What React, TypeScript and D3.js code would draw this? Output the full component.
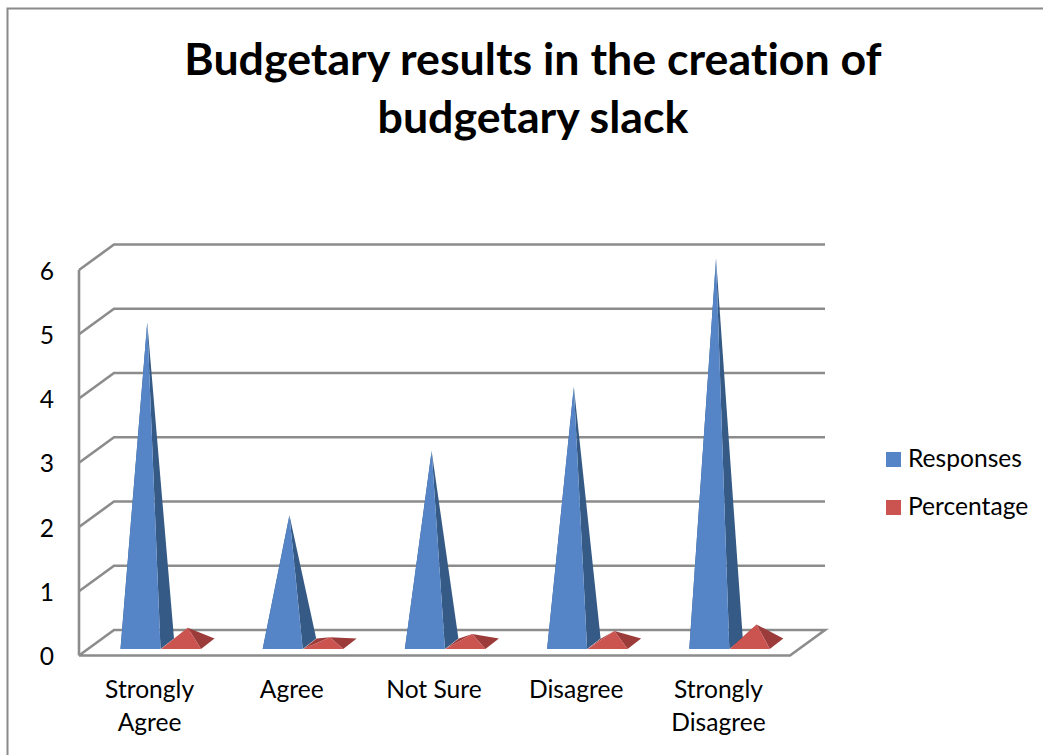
import React from "react";
import * as d3 from "d3";

const categories = ["Strongly Agree", "Agree", "Not Sure", "Disagree", "Strongly Disagree"];
const categoryLines = [["Strongly", "Agree"], ["Agree"], ["Not Sure"], ["Disagree"], ["Strongly", "Disagree"]];
const responses = [5, 2, 3, 4, 6];
const percentage = [0.25, 0.1, 0.15, 0.2, 0.3];
const yTicks = [0, 1, 2, 3, 4, 5, 6];
const titleLines = ["Budgetary results in the creation of", "budgetary slack"];
const legendItems = [
  { label: "Responses", face: "#5585c6", side: "#355a85" },
  { label: "Percentage", face: "#cb5350", side: "#9b3c3a" },
];

const FONT = "Lato, 'Open Sans', sans-serif";
const GRID = "#8c8c8c";
const WALL_DX = 35;
const WALL_DY = -25.5;

const x = d3.scaleBand<string>().domain(categories).range([79, 790]);
const y = d3.scaleLinear().domain([0, 6]).range([655.5, 270]);

// Pyramid: front base edge on the floor, depth receding up and to the right.
const BASE_Y = 649;
const BASE_W = 40;
const DEPTH_DX = 13.5;
const DEPTH_DY = -10.5;
const line = d3.line();

function Pyramid({ left, value, face, side }: { left: number; value: number; face: string; side: string }) {
  const apexX = left + (BASE_W + DEPTH_DX) / 2;
  const apexY = y(value) + (BASE_Y + DEPTH_DY / 2 - y(0));
  const right = left + BASE_W;
  return (
    <g>
      {/* left face only shows on very low pyramids, where the apex sits under the back corner */}
      <path
        d={line([[left, BASE_Y], [left + DEPTH_DX, BASE_Y + DEPTH_DY], [apexX, apexY]])! + "Z"}
        fill={side}
      />
      <path
        d={line([[right, BASE_Y], [right + DEPTH_DX, BASE_Y + DEPTH_DY], [apexX, apexY]])! + "Z"}
        fill={side}
      />
      <path d={line([[left, BASE_Y], [right, BASE_Y], [apexX, apexY]])! + "Z"} fill={face} />
    </g>
  );
}

export default function App() {
  return (
    <svg
      width={1043}
      height={755}
      style={{ position: "absolute", left: 0, top: 0, display: "block", background: "#fff", fontVariantLigatures: "none" }}
      fontFamily={FONT}
    >
      {/* chart frame */}
      <path d="M7.5,755V8.5H1043" fill="none" stroke="#8a8a8a" strokeWidth={2} />

      {titleLines.map((t, i) => (
        <text key={t} x={533} y={75 + i * 58} textAnchor="middle" fontSize={44.7} fontWeight={700} fill="#000">
          {t}
        </text>
      ))}

      {/* walls and floor */}
      <g fill="none" stroke={GRID} strokeWidth={2.6}>
        {yTicks.map((t) => (
          <path
            key={t}
            d={
              t === 0
                ? line([
                    [79, y(0)],
                    [x.range()[1], y(0)],
                    [x.range()[1] + WALL_DX, y(0) + WALL_DY],
                    [79 + WALL_DX, y(0) + WALL_DY],
                    [79, y(0)],
                  ])!
                : line([
                    [79, y(t)],
                    [79 + WALL_DX, y(t) + WALL_DY],
                    [x.range()[1] + WALL_DX, y(t) + WALL_DY],
                  ])!
            }
          />
        ))}
        <path d={line([[79, y(0)], [79, y(6)]])!} />
      </g>

      {categories.map((c, i) => {
        const left = x(c)! + 41.5;
        return (
          <g key={c}>
            <Pyramid left={left} value={responses[i]} face={legendItems[0].face} side={legendItems[0].side} />
            <Pyramid left={left + BASE_W + 0.5} value={percentage[i]} face={legendItems[1].face} side={legendItems[1].side} />
          </g>
        );
      })}

      {/* axis labels */}
      {yTicks.map((t) => (
        <text key={t} x={47} y={y(t) + 9.5} textAnchor="middle" fontSize={24.6} fill="#000">
          {t}
        </text>
      ))}
      {categories.map((c, i) => (
        <text key={c} textAnchor="middle" fontSize={24.6} fill="#000">
          {categoryLines[i].map((l, j) => (
            <tspan key={l} x={x(c)! + x.bandwidth() / 2 - 0.5} y={698 + j * 33}>
              {l}
            </tspan>
          ))}
        </text>
      ))}

      {/* legend */}
      {legendItems.map((l, i) => (
        <g key={l.label}>
          <rect x={886} y={452 + i * 48} width={15} height={15} fill={l.face} />
          <text x={908} y={467 + i * 48} fontSize={24.6} fill="#000">
            {l.label}
          </text>
        </g>
      ))}
    </svg>
  );
}
